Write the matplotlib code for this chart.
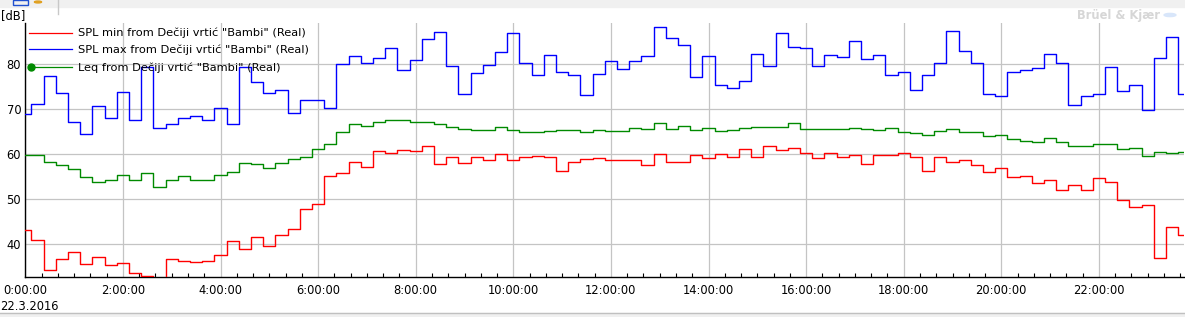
import numpy as np
import pandas as pd
import matplotlib
matplotlib.use('Agg')
import matplotlib.pyplot as plt
import matplotlib.dates as mdates
from matplotlib.patches import Rectangle, Circle
from matplotlib.lines import Line2D

# =========================
# DATA (15 min values, 22.3.2016)
# =========================
times = pd.date_range("2016-03-22 00:00", periods=96, freq="15min")

spl_min = [
    43.1, 41.0, 34.4, 36.7, 38.2, 35.6, 37.1, 35.3, 35.8, 33.6, 32.9, 31.0,
    36.7, 36.3, 36.0, 36.3, 37.6, 40.7, 38.9, 41.6, 39.6, 42.0, 43.3, 47.8,
    48.9, 55.1, 55.8, 58.4, 57.1, 60.7, 60.4, 60.9, 60.7, 61.8, 57.8, 59.3,
    58.0, 59.3, 58.7, 60.0, 58.7, 59.3, 59.6, 59.3, 56.4, 58.2, 58.9, 59.1,
    58.7, 58.7, 58.7, 57.6, 60.0, 58.2, 58.4, 59.8, 59.1, 60.0, 59.3, 61.1,
    59.3, 61.8, 60.9, 61.3, 60.2, 59.1, 60.4, 59.3, 59.8, 57.8, 59.8, 59.8,
    60.2, 59.3, 56.2, 59.3, 58.4, 58.7, 57.6, 56.0, 56.9, 55.0, 55.2, 53.6,
    54.4, 52.0, 53.1, 52.0, 54.7, 53.8, 49.8, 48.2, 48.7, 36.9, 43.8, 42.0,
]

spl_max = [
    69.0, 71.1, 77.3, 73.6, 67.1, 64.6, 70.8, 68.1, 73.8, 67.6, 79.5, 65.8,
    66.8, 68.1, 68.6, 67.6, 70.4, 66.7, 79.3, 76.0, 73.6, 74.2, 69.1, 72.0,
    72.0, 70.2, 80.0, 81.8, 80.2, 81.3, 83.6, 78.7, 80.9, 85.6, 87.1, 79.6,
    73.3, 78.1, 79.9, 82.7, 86.9, 80.4, 77.6, 82.0, 78.2, 77.6, 73.1, 77.8,
    80.7, 78.9, 80.7, 81.9, 88.4, 85.8, 84.4, 77.1, 81.9, 75.3, 74.7, 76.4,
    82.4, 79.6, 86.9, 83.8, 83.6, 79.6, 82.0, 81.6, 85.1, 81.1, 82.0, 77.6,
    78.4, 74.2, 77.6, 80.4, 87.3, 82.9, 80.4, 73.3, 72.9, 78.4, 78.7, 79.1,
    82.4, 80.2, 70.9, 72.9, 73.3, 79.3, 74.0, 75.3, 69.8, 81.3, 86.0, 73.3,
]

leq = [
    59.9, 59.8, 58.4, 57.6, 56.7, 55.0, 53.8, 54.4, 55.3, 54.4, 55.9, 52.7,
    54.2, 55.1, 54.4, 54.2, 55.5, 56.0, 58.0, 57.8, 56.9, 58.0, 58.9, 59.4,
    61.1, 62.4, 64.9, 66.8, 66.2, 67.1, 67.6, 67.6, 67.1, 67.1, 66.7, 66.0,
    65.6, 65.3, 65.3, 66.0, 65.3, 64.9, 64.9, 65.1, 65.3, 65.3, 64.9, 65.3,
    65.1, 65.1, 65.8, 65.6, 66.9, 65.6, 66.2, 65.3, 65.8, 65.1, 65.3, 65.8,
    66.0, 66.0, 66.0, 66.9, 65.6, 65.6, 65.6, 65.6, 65.8, 65.6, 65.3, 65.8,
    64.9, 64.7, 64.4, 65.1, 65.6, 64.9, 64.9, 64.0, 64.4, 63.3, 62.9, 62.7,
    63.6, 62.7, 61.8, 61.8, 62.2, 62.4, 61.1, 61.3, 59.7, 60.6, 60.4, 60.6,
]

source = 'Dečiji vrtić "Bambi"'
series_labels = [
    f'SPL min from {source} (Real)',
    f'SPL max from {source} (Real)',
    f'Leq from {source} (Real)',
]
colors = ['#ff0000', '#0000ff', '#008a00']

# =========================
# FIGURE
# =========================
plt.rcParams['font.family'] = ['DejaVu Sans']
fig = plt.figure(figsize=(11.85, 3.17), dpi=100)
W, H = 1185, 317

def fx(px):
    return px / W

def fy(py):
    return 1 - py / H

ax = fig.add_axes([fx(25.3), fy(277), fx(1184.3) - fx(25.3), fy(22.5) - fy(277)])

for vals, col in zip([spl_min, spl_max, leq], colors):
    ax.step(times, vals, where='mid', color=col, lw=1.0, zorder=3)

ax.set_xlim(times[0], times[-1])
ax.set_ylim(32.74, 89.3)
ax.set_yticks([40, 50, 60, 70, 80])

ax.xaxis.set_major_locator(mdates.HourLocator(byhour=range(0, 24, 2)))
ax.xaxis.set_minor_locator(mdates.MinuteLocator(byminute=[0, 20, 40]))
ax.xaxis.set_major_formatter(
    matplotlib.ticker.FuncFormatter(lambda v, p: f"{mdates.num2date(v).hour}:00:00"))

ax.grid(True, which='major', color='#c4c4c4', lw=0.9)
ax.set_axisbelow(True)
for s in ['top', 'right']:
    ax.spines[s].set_visible(False)
ax.spines['left'].set_linewidth(1.0)
ax.spines['bottom'].set_linewidth(1.0)

ax.tick_params(axis='x', which='major', length=0, pad=5, labelsize=8.3)
ax.tick_params(axis='x', which='minor', direction='in', length=3, width=0.8)
ax.tick_params(axis='y', which='major', length=0, pad=3, labelsize=8.3)

# legend, drawn by hand in the upper left corner
leg_y = [32.7, 49.3, 67.3]
for lab, col, y in zip(series_labels, colors, leg_y):
    fig.add_artist(Line2D([fx(29), fx(72)], [fy(y), fy(y)], color=col, lw=0.9,
                          transform=fig.transFigure, zorder=5))
    fig.text(fx(78.5), fy(y), lab, fontsize=8.2, va='center', ha='left', zorder=5)
fig.add_artist(Line2D([fx(30.5)], [fy(67.3)], marker='o', ms=5, color=colors[2],
                      transform=fig.transFigure, zorder=6))

# texts around the chart
fig.text(fx(1), fy(15.5), '[dB]', fontsize=8.3, va='center', ha='left')
fig.text(fx(0), fy(306), '22.3.2016', fontsize=8.3, va='center', ha='left')
fig.text(fx(1077), fy(15), 'Brüel & Kjær', fontsize=8.3, fontweight='bold',
         color='#d6d6d6', va='center', ha='left')
fig.add_artist(Circle((fx(1170), fy(15)), 0.005, color='#d8e6fa', transform=fig.transFigure))

# window chrome top / bottom
fig.add_artist(Rectangle((0, fy(7)), 1, fy(0) - fy(7), color='#f0f0f0',
                         transform=fig.transFigure, zorder=0))
fig.add_artist(Rectangle((fx(13), fy(5)), fx(15), fy(0) - fy(5), fill=False,
                         ec='#2050d0', lw=1, transform=fig.transFigure))
fig.add_artist(Circle((fx(38), fy(2)), 0.003, color='#e0a020', transform=fig.transFigure))
fig.add_artist(Line2D([fx(58), fx(58)], [fy(0), fy(14)], color='#c8c8c8', lw=1,
                      transform=fig.transFigure))
fig.add_artist(Rectangle((0, 0), 1, fy(313), color='#f0f0f0',
                         transform=fig.transFigure, zorder=0))
fig.add_artist(Line2D([0, 1], [fy(313), fy(313)], color='#c0c0c0', lw=1,
                      transform=fig.transFigure))

fig.savefig('out.png', dpi=100)
